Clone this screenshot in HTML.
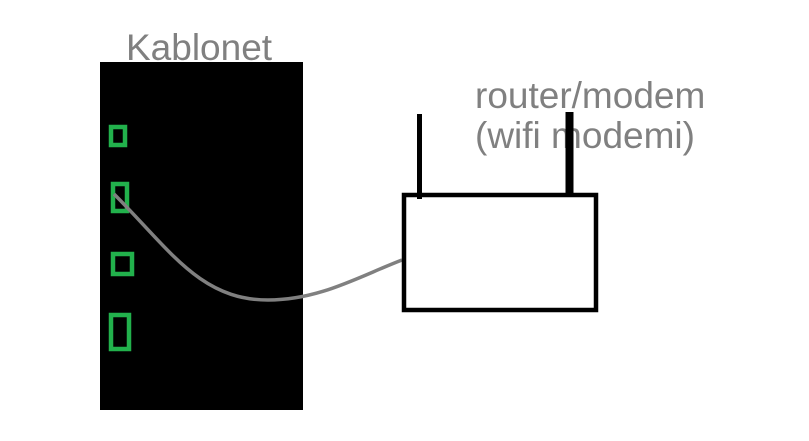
<!DOCTYPE html>
<html><head><style>
html,body{margin:0;padding:0;background:#fff;}
body{width:809px;height:441px;overflow:hidden;position:relative;}
</style></head><body>
<svg width="809" height="441" viewBox="0 0 809 441" xmlns="http://www.w3.org/2000/svg" style="position:absolute;left:0;top:0">
<rect x="100" y="62" width="203" height="348" fill="#000"/>
<g fill="none" stroke="#22b14c" stroke-width="4.5">
<rect x="111" y="127" width="14" height="18"/>
<rect x="113" y="184" width="14" height="27"/>
<rect x="113" y="254" width="19" height="20"/>
<rect x="111" y="315" width="18" height="34"/>
</g>
<path d="M114 194 C170 250 200 300 268 300 C320 300 360 276 402 260" fill="none" stroke="#808080" stroke-width="3.5"/>
<g font-family="Liberation Sans, sans-serif" font-size="37" fill="#808080">
<text x="126" y="60">Kablonet</text>
<text x="475" y="108">router/modem</text>
<text x="475" y="148">(wifi modemi)</text>
</g>
<rect x="404" y="195" width="192" height="115" fill="none" stroke="#000" stroke-width="4.5"/>
<line x1="419.5" y1="114" x2="419.5" y2="199" stroke="#000" stroke-width="5"/>
<line x1="569.5" y1="112" x2="569.5" y2="195" stroke="#000" stroke-width="8"/>
</svg>
</body></html>
